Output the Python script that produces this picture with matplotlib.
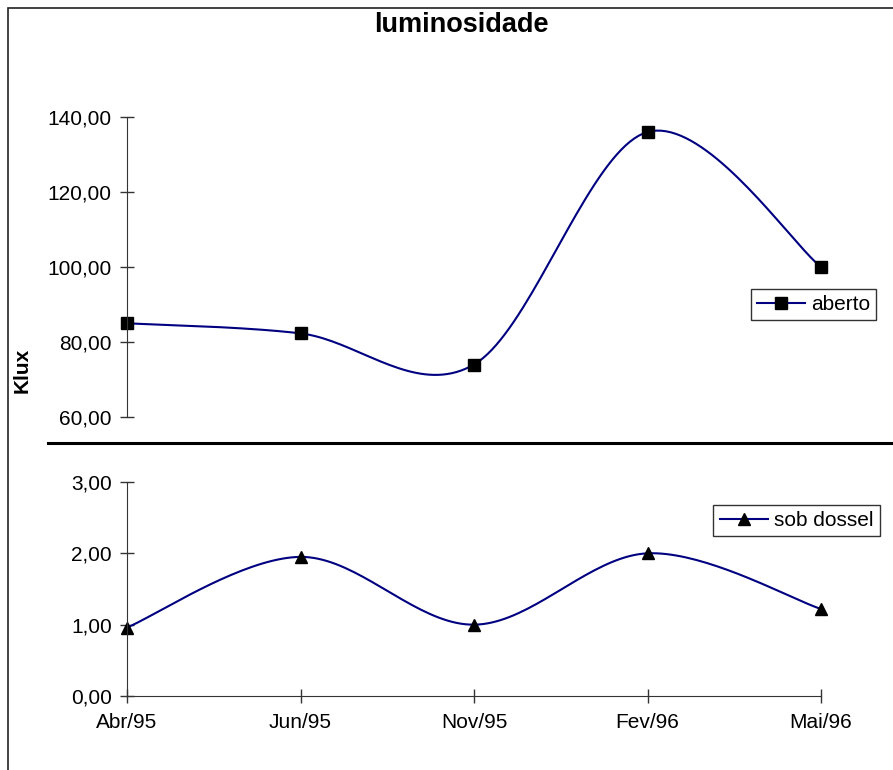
import numpy as np
import matplotlib
matplotlib.use("Agg")
import matplotlib.pyplot as plt
from matplotlib.patches import Rectangle
from matplotlib.lines import Line2D

plt.rcParams['font.family'] = ['Liberation Sans', 'DejaVu Sans']

categories = ["Abr/95", "Jun/95", "Nov/95", "Fev/96", "Mai/96"]
aberto = [85.0, 82.3, 74.0, 136.0, 100.0]
sob_dossel = [0.96, 1.95, 1.0, 2.0, 1.22]
top_ticks = [60, 80, 100, 120, 140]
bot_ticks = [0, 1, 2, 3]

W, H = 893, 770
fig = plt.figure(figsize=(W / 100, H / 100), dpi=100)


def fbox(x0, y0, x1, y1):
    return [x0 / W, 1 - y1 / H, (x1 - x0) / W, (y1 - y0) / H]


def smooth(x, y, n=40):
    # Excel-style smoothed line (Catmull-Rom Bezier)
    x = np.asarray(x, float)
    y = np.asarray(y, float)
    P = np.column_stack([x, y])
    Pe = np.vstack([P[0], P, P[-1]])
    out = []
    t = np.linspace(0, 1, n)[:, None]
    for i in range(len(P) - 1):
        p0, p1, p2, p3 = Pe[i], Pe[i + 1], Pe[i + 2], Pe[i + 3]
        c1 = p1 + (p2 - p0) / 6
        c2 = p2 - (p3 - p1) / 6
        seg = ((1 - t) ** 3) * p1 + 3 * ((1 - t) ** 2) * t * c1 + 3 * (1 - t) * t ** 2 * c2 + t ** 3 * p2
        out.append(seg if i == 0 else seg[1:])
    s = np.vstack(out)
    return s[:, 0], s[:, 1]


xs = np.arange(len(categories))
line_color = "#000080"
axis_color = "#333333"
fs = 15

# top axes
ax1 = fig.add_axes(fbox(127, 117, 821, 417))
sx, sy = smooth(xs, aberto)
ax1.plot(sx, sy, color=line_color, lw=1.5, clip_on=False)
ax1.plot(xs, aberto, linestyle="none", marker="s", ms=9, color="black", clip_on=False)
ax1.set_xlim(0, 4)
ax1.set_ylim(60, 140)
ax1.set_yticks(top_ticks)
ax1.set_yticklabels([f"{v:.2f}".replace(".", ",") for v in top_ticks])
for s in ["top", "right", "bottom"]:
    ax1.spines[s].set_visible(False)
ax1.spines["left"].set_color(axis_color)
ax1.set_xticks([])
ax1.tick_params(axis="y", direction="inout", length=10, width=1, color=axis_color, labelsize=fs, pad=6)
ax1.patch.set_alpha(0)

# bottom axes
ax2 = fig.add_axes(fbox(127, 482, 821, 696))
sx2, sy2 = smooth(xs, sob_dossel)
ax2.plot(sx2, sy2, color=line_color, lw=1.5, clip_on=False)
ax2.plot(xs, sob_dossel, linestyle="none", marker="^", ms=9, color="black", clip_on=False)
ax2.set_xlim(0, 4)
ax2.set_ylim(0, 3)
ax2.set_yticks(bot_ticks)
ax2.set_yticklabels([f"{v:.2f}".replace(".", ",") for v in bot_ticks])
ax2.set_xticks(xs)
ax2.set_xticklabels(categories)
for s in ["top", "right"]:
    ax2.spines[s].set_visible(False)
ax2.spines["left"].set_color(axis_color)
ax2.spines["bottom"].set_color(axis_color)
ax2.tick_params(axis="y", direction="inout", length=10, width=1, color=axis_color, labelsize=fs, pad=6)
ax2.tick_params(axis="x", direction="inout", length=10, width=1, color=axis_color, labelsize=fs, pad=7)
ax2.patch.set_alpha(0)

# legends
leg1 = ax1.legend([Line2D([0], [0], color=line_color, lw=1.5, marker="s", ms=9, mfc="black", mec="black")],
                  ["aberto"], loc="center", bbox_to_anchor=((751 + 876) / 2 / W, 1 - 304.5 / H),
                  bbox_transform=fig.transFigure, fontsize=fs, frameon=True, fancybox=False,
                  handlelength=2.3, handletextpad=0.3, borderpad=0.3, borderaxespad=0)
leg1.get_frame().set_edgecolor("black")
leg1.get_frame().set_linewidth(1)

leg2 = ax2.legend([Line2D([0], [0], color=line_color, lw=1.5, marker="^", ms=9, mfc="black", mec="black")],
                  ["sob dossel"], loc="center", bbox_to_anchor=((712 + 881) / 2 / W, 1 - 520.5 / H),
                  bbox_transform=fig.transFigure, fontsize=fs, frameon=True, fancybox=False,
                  handlelength=2.3, handletextpad=0.3, borderpad=0.3, borderaxespad=0)
leg2.get_frame().set_edgecolor("black")
leg2.get_frame().set_linewidth(1)

# separator line
fig.add_artist(Line2D([48 / W, 1.0], [1 - 443 / H, 1 - 443 / H], color="black", lw=2.2,
                      transform=fig.transFigure))

# frame border
fig.add_artist(Rectangle((7.5 / W, -0.05), 1.1, 1 - 7.5 / H + 0.05, fill=False, edgecolor="#222222",
                         lw=1.2, transform=fig.transFigure))

# title and y label
fig.text(461 / W, 1 - 32 / H, "luminosidade", ha="center", va="baseline", fontsize=19.5, fontweight="bold")
fig.text(22 / W, 1 - 370 / H, "Klux", ha="center", va="center", rotation=90, fontsize=15, fontweight="bold")

fig.savefig("out.png", dpi=100)
